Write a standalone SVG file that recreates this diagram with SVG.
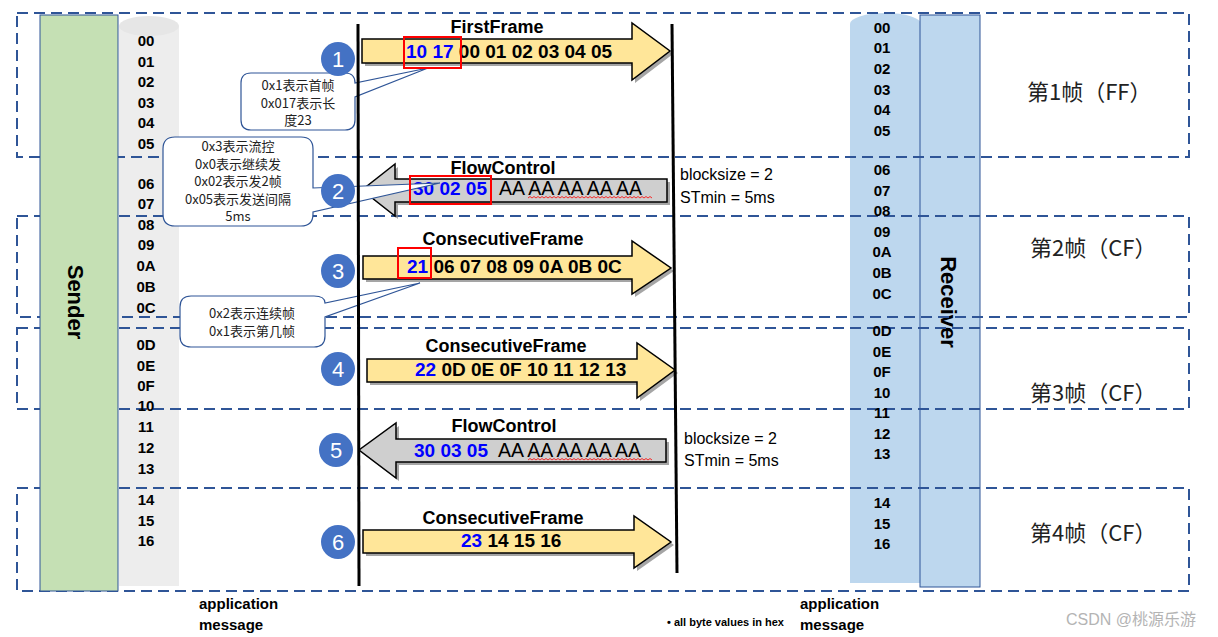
<svg xmlns="http://www.w3.org/2000/svg" width="1218" height="637" viewBox="0 0 1218 637">
<style>
.dash{fill:none;stroke:#2F5597;stroke-width:2;stroke-dasharray:11 6}
.byte{font-family:"Liberation Sans",Arial,sans-serif;font-weight:bold;font-size:15px;fill:#000;text-anchor:middle}
.ttl{font-family:"Liberation Sans",Arial,sans-serif;font-weight:bold;font-size:18px;fill:#000}
.dat{font-family:"Liberation Sans",Arial,sans-serif;font-weight:bold;font-size:19px;fill:#000}
.blue{fill:#0000FF}
.aa{font-family:"Liberation Sans",Arial,sans-serif;font-size:19.5px;fill:#000}
.ff{fill:#FFE699;stroke:#000;stroke-width:1.5}
.fc{fill:#CFCFCF;stroke:#000;stroke-width:1.5}
.shadow{fill:#7F7F7F;opacity:0.7}
.call{fill:#FFFFFF;stroke:#2F5597;stroke-width:1.2}
.ct{font-family:"Noto Sans CJK SC","Noto Sans",sans-serif;font-size:13px;fill:#222;text-anchor:middle}
.circ{fill:#4472C4}
.num{font-family:"Liberation Sans",Arial,sans-serif;font-size:22px;fill:#FFFFFF;text-anchor:middle}
.red{fill:none;stroke:#FF0000;stroke-width:2}
.life{stroke:#000;stroke-width:3}
.side{font-family:"Liberation Sans",Arial,sans-serif;font-size:16px;fill:#000}
.fr{font-family:"Noto Sans CJK SC","Noto Sans",sans-serif;font-size:22px;fill:#222}
.app{font-family:"Liberation Sans",Arial,sans-serif;font-weight:bold;font-size:15px;fill:#000}
.squig{fill:none;stroke:#FF0000;stroke-width:0.8}
</style>

<!-- columns under dashed boxes -->
<g id="sender-msg">
  <rect x="119" y="26" width="60" height="560" fill="#EDEDED"/>
  <ellipse cx="149" cy="26" rx="30" ry="10" fill="#E6E6E6"/>
</g>
<g id="receiver-msg">
  <rect x="850" y="24" width="71" height="559" fill="#BDD7EE"/>
  <ellipse cx="885.5" cy="24" rx="35.5" ry="11" fill="#BDD7EE"/>
</g>
<g id="receiver">
  <rect x="920" y="15" width="60" height="572" fill="#BDD7EE" stroke="#2F5597" stroke-width="1"/>
  <text transform="translate(941,302) rotate(90)" text-anchor="middle" font-family="Liberation Sans,Arial,sans-serif" font-weight="bold" font-size="22" fill="#000">Receiver</text>
</g>

<!-- dashed frame boxes -->
<g id="frames">
  <rect class="dash" x="17" y="13" width="1172" height="144"/>
  <rect class="dash" x="17" y="216" width="1172" height="101"/>
  <rect class="dash" x="17" y="328" width="1172" height="81"/>
  <rect class="dash" x="17" y="488" width="1172" height="103"/>
  <line class="dash" x1="17" y1="409" x2="1189" y2="409"/>
</g>

<g id="sender">
  <rect x="40" y="15" width="78" height="576" fill="#C5E0B4" stroke="#2F5597" stroke-width="1"/>
  <text transform="translate(68,302) rotate(90)" text-anchor="middle" font-family="Liberation Sans,Arial,sans-serif" font-weight="bold" font-size="22" fill="#000">Sender</text>
</g>

<g id="sender-bytes">
  <text class="byte" x="146" y="46">00</text>
  <text class="byte" x="146" y="67">01</text>
  <text class="byte" x="146" y="87">02</text>
  <text class="byte" x="146" y="108">03</text>
  <text class="byte" x="146" y="128">04</text>
  <text class="byte" x="146" y="149">05</text>
  <text class="byte" x="146" y="189">06</text>
  <text class="byte" x="146" y="209">07</text>
  <text class="byte" x="146" y="230">08</text>
  <text class="byte" x="146" y="250">09</text>
  <text class="byte" x="146" y="271">0A</text>
  <text class="byte" x="146" y="292">0B</text>
  <text class="byte" x="146" y="313">0C</text>
  <text class="byte" x="146" y="350">0D</text>
  <text class="byte" x="146" y="371">0E</text>
  <text class="byte" x="146" y="391">0F</text>
  <text class="byte" x="146" y="411">10</text>
  <text class="byte" x="146" y="432">11</text>
  <text class="byte" x="146" y="453">12</text>
  <text class="byte" x="146" y="474">13</text>
  <text class="byte" x="146" y="505">14</text>
  <text class="byte" x="146" y="526">15</text>
  <text class="byte" x="146" y="546">16</text>
</g>

<g id="receiver-bytes">
  <text class="byte" x="882" y="33">00</text>
  <text class="byte" x="882" y="53">01</text>
  <text class="byte" x="882" y="74">02</text>
  <text class="byte" x="882" y="95">03</text>
  <text class="byte" x="882" y="115">04</text>
  <text class="byte" x="882" y="136">05</text>
  <text class="byte" x="882" y="175">06</text>
  <text class="byte" x="882" y="196">07</text>
  <text class="byte" x="882" y="216">08</text>
  <text class="byte" x="882" y="237">09</text>
  <text class="byte" x="882" y="257">0A</text>
  <text class="byte" x="882" y="278">0B</text>
  <text class="byte" x="882" y="299">0C</text>
  <text class="byte" x="882" y="336">0D</text>
  <text class="byte" x="882" y="357">0E</text>
  <text class="byte" x="882" y="377">0F</text>
  <text class="byte" x="882" y="398">10</text>
  <text class="byte" x="882" y="418">11</text>
  <text class="byte" x="882" y="439">12</text>
  <text class="byte" x="882" y="459">13</text>
  <text class="byte" x="882" y="508">14</text>
  <text class="byte" x="882" y="529">15</text>
  <text class="byte" x="882" y="549">16</text>
</g>

<g id="connectors">
  <g id="msg1">
    <path class="shadow" transform="translate(3,3)" d="M362,39 H632 V23 L670,51 L632,80 V63 H362 Z"/>
    <path class="ff" d="M362,39 H632 V23 L670,51 L632,80 V63 H362 Z"/>
    <text class="ttl" x="497" y="33" text-anchor="middle">FirstFrame</text>
    <text class="dat" x="406" y="58"><tspan class="blue">10 17</tspan> 00 01 02 03 04 05</text>
  </g>
  <g id="msg2">
    <path class="shadow" transform="translate(3,3)" d="M667,179 H395 V164 L362,190 L395,216 V202 H667 Z"/>
    <path class="fc" d="M667,179 H395 V164 L362,190 L395,216 V202 H667 Z"/>
    <text class="ttl" x="503" y="174" text-anchor="middle">FlowControl</text>
    <text class="dat blue" x="413" y="195">30 02 05</text>
    <text class="aa" x="499" y="195">AA AA AA AA AA</text>
    <path class="squig" d="M528,198 l2,-1.5 l2,1.5 l2,-1.5 l2,1.5 l2,-1.5 l2,1.5 l2,-1.5 l2,1.5 l2,-1.5 l2,1.5 l2,-1.5 l2,1.5 l2,-1.5 l2,1.5 l2,-1.5 l2,1.5 l2,-1.5 l2,1.5 l2,-1.5 l2,1.5 l2,-1.5 l2,1.5 l2,-1.5 l2,1.5 l2,-1.5 l2,1.5 l2,-1.5 l2,1.5 l2,-1.5 l2,1.5 l2,-1.5 l2,1.5 l2,-1.5 l2,1.5 l2,-1.5 l2,1.5 l2,-1.5 l2,1.5 l2,-1.5 l2,1.5 l2,-1.5 l2,1.5 l2,-1.5 l2,1.5 l2,-1.5 l2,1.5 l2,-1.5 l2,1.5 l2,-1.5 l2,1.5 l2,-1.5 l2,1.5 l2,-1.5 l2,1.5 l2,-1.5 l2,1.5 l2,-1.5 l2,1.5 l2,-1.5 l2,1.5 l2,-1.5 l2,1.5"/>
  </g>
  <g id="msg3">
    <path class="shadow" transform="translate(3,3)" d="M363,256 H632 V241 L671,268 L632,294 V279 H363 Z"/>
    <path class="ff" d="M363,256 H632 V241 L671,268 L632,294 V279 H363 Z"/>
    <text class="ttl" x="503" y="245" text-anchor="middle">ConsecutiveFrame</text>
    <text class="dat" x="407" y="273"><tspan class="blue">21</tspan> 06 07 08 09 0A 0B 0C</text>
  </g>
  <g id="msg4">
    <path class="shadow" transform="translate(3,3)" d="M367,359 H637 V343 L675,370 L637,398 V382 H367 Z"/>
    <path class="ff" d="M367,359 H637 V343 L675,370 L637,398 V382 H367 Z"/>
    <text class="ttl" x="506" y="352" text-anchor="middle">ConsecutiveFrame</text>
    <text class="dat" x="415" y="376"><tspan class="blue">22</tspan> 0D 0E 0F 10 11 12 13</text>
  </g>
  <g id="msg5">
    <path class="shadow" transform="translate(3,3)" d="M666,439 H396 V423 L359,450 L396,478 V462 H666 Z"/>
    <path class="fc" d="M666,439 H396 V423 L359,450 L396,478 V462 H666 Z"/>
    <text class="ttl" x="504" y="432" text-anchor="middle">FlowControl</text>
    <text class="dat blue" x="414" y="457">30 03 05</text>
    <text class="aa" x="498" y="457">AA AA AA AA AA</text>
    <path class="squig" d="M528,460 l2,-1.5 l2,1.5 l2,-1.5 l2,1.5 l2,-1.5 l2,1.5 l2,-1.5 l2,1.5 l2,-1.5 l2,1.5 l2,-1.5 l2,1.5 l2,-1.5 l2,1.5 l2,-1.5 l2,1.5 l2,-1.5 l2,1.5 l2,-1.5 l2,1.5 l2,-1.5 l2,1.5 l2,-1.5 l2,1.5 l2,-1.5 l2,1.5 l2,-1.5 l2,1.5 l2,-1.5 l2,1.5 l2,-1.5 l2,1.5 l2,-1.5 l2,1.5 l2,-1.5 l2,1.5 l2,-1.5 l2,1.5 l2,-1.5 l2,1.5 l2,-1.5 l2,1.5 l2,-1.5 l2,1.5 l2,-1.5 l2,1.5 l2,-1.5 l2,1.5 l2,-1.5 l2,1.5 l2,-1.5 l2,1.5 l2,-1.5 l2,1.5 l2,-1.5 l2,1.5 l2,-1.5 l2,1.5 l2,-1.5 l2,1.5 l2,-1.5 l2,1.5"/>
  </g>
  <g id="msg6">
    <path class="shadow" transform="translate(3,3)" d="M363,530 H634 V516 L671,542 L634,568 V553 H363 Z"/>
    <path class="ff" d="M363,530 H634 V516 L671,542 L634,568 V553 H363 Z"/>
    <text class="ttl" x="503" y="524" text-anchor="middle">ConsecutiveFrame</text>
    <text class="dat" x="461" y="547"><tspan class="blue">23</tspan> 14 15 16</text>
  </g>
</g>

<g id="callout1">
  <path class="call" d="M251,73 H345 Q355,73 355,83 L428,68 L355,97 V120 Q355,130 345,130 H251 Q241,130 241,120 V83 Q241,73 251,73 Z"/>
  <text class="ct" x="298" y="90">0x1表示首帧</text>
  <text class="ct" x="298" y="108">0x017表示长</text>
  <text class="ct" x="298" y="125">度23</text>
</g>
<g id="callout2">
  <path class="call" d="M175,137 H301 Q313,137 313,149 V188 L440,183 L313,212 V214 Q313,226 301,226 H175 Q163,226 163,214 V149 Q163,137 175,137 Z"/>
  <text class="ct" x="238" y="151">0x3表示流控</text>
  <text class="ct" x="238" y="168.5">0x0表示继续发</text>
  <text class="ct" x="238" y="186">0x02表示发2帧</text>
  <text class="ct" x="238" y="203.5">0x05表示发送间隔</text>
  <text class="ct" x="238" y="221">5ms</text>
</g>
<g id="callout3">
  <path class="call" d="M191,296 H314 Q325,296 325,303 L420,283 L325,317 V336 Q325,347 314,347 H191 Q180,347 180,336 V307 Q180,296 191,296 Z"/>
  <text class="ct" x="252" y="318">0x2表示连续帧</text>
  <text class="ct" x="252" y="336">0x1表示第几帧</text>
</g>

<g id="lifelines">
  <line class="life" x1="358" y1="24" x2="359" y2="586"/>
  <line class="life" x1="672" y1="24" x2="677" y2="573"/>
</g>

<g id="highlights">
  <rect class="red" x="404" y="37" width="57" height="31"/>
  <rect class="red" x="410" y="176" width="81" height="28"/>
  <rect class="red" x="398" y="248" width="33" height="30"/>
</g>

<g id="steps">
  <circle class="circ" cx="338" cy="59" r="17"/><text class="num" x="338" y="67">1</text>
  <circle class="circ" cx="338" cy="191" r="17"/><text class="num" x="338" y="199">2</text>
  <circle class="circ" cx="338" cy="271" r="17"/><text class="num" x="338" y="279">3</text>
  <circle class="circ" cx="338" cy="369" r="17"/><text class="num" x="338" y="377">4</text>
  <circle class="circ" cx="336" cy="450" r="17"/><text class="num" x="336" y="458">5</text>
  <circle class="circ" cx="338" cy="542" r="17"/><text class="num" x="338" y="550">6</text>
</g>

<g id="fc-params">
  <text class="side" x="680" y="180">blocksize = 2</text>
  <text class="side" x="680" y="203">STmin = 5ms</text>
  <text class="side" x="684" y="444">blocksize = 2</text>
  <text class="side" x="684" y="466">STmin = 5ms</text>
</g>

<g id="frame-labels">
  <text class="fr" x="1027" y="100">第1帧（FF）</text>
  <text class="fr" x="1030" y="256">第2帧（CF）</text>
  <text class="fr" x="1030" y="401">第3帧（CF）</text>
  <text class="fr" x="1030" y="541">第4帧（CF）</text>
</g>

<g id="footer">
  <text class="app" x="199" y="609">application</text>
  <text class="app" x="199" y="630">message</text>
  <text class="app" x="800" y="609">application</text>
  <text class="app" x="800" y="630">message</text>
  <text x="667" y="626" font-family="Liberation Sans,Arial,sans-serif" font-weight="bold" font-size="11" fill="#000">• all byte values in hex</text>
  <text x="1066" y="625" font-family="Liberation Sans,'Noto Sans CJK SC',sans-serif" font-size="16" fill="#B4B4B4">CSDN @桃源乐游</text>
</g>
</svg>
